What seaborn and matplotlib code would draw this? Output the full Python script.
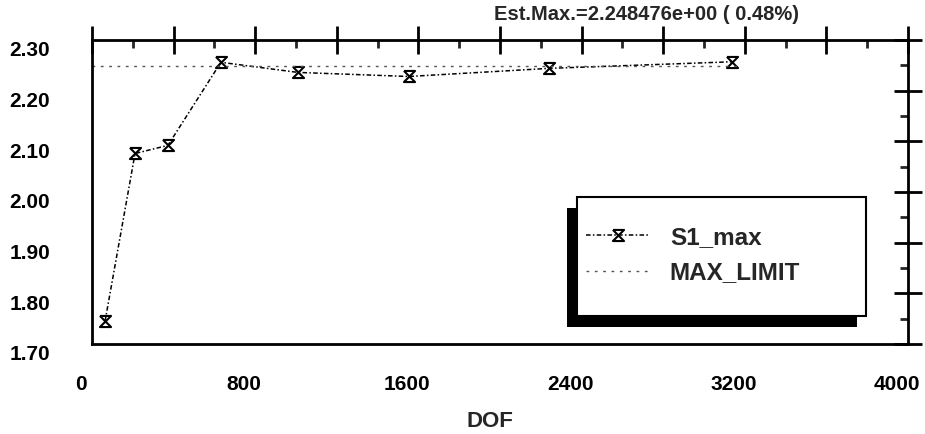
import matplotlib
matplotlib.use("Agg")
import matplotlib.pyplot as plt
import matplotlib.transforms as mtransforms
import seaborn as sns
import pandas as pd
from matplotlib.path import Path
from matplotlib.patches import Rectangle
from matplotlib.ticker import MultipleLocator, FixedLocator

# data
dof = [64, 211, 372, 632, 1010, 1554, 2240, 3137]
s1_max = [1.745, 2.076, 2.092, 2.256, 2.236, 2.228, 2.244, 2.257]
limit_dof = [0, 3160]
limit_val = [2.2485, 2.2485]
x_ticks = [0, 800, 1600, 2400, 3200, 4000]
y_ticks = [1.70, 1.80, 1.90, 2.00, 2.10, 2.20, 2.30]

df = pd.DataFrame({"DOF": dof, "S1_max": s1_max})
lim = pd.DataFrame({"DOF": limit_dof, "MAX_LIMIT": limit_val})

sns.set_style("white")
plt.rcParams["font.family"] = ["Liberation Sans", "DejaVu Sans"]
plt.rcParams["font.weight"] = "bold"

# hourglass + cross marker like the old plotter
hourglass = Path([(-1, 1), (1, 1), (-1, -1), (1, -1), (-1, 1)],
                 [Path.MOVETO, Path.LINETO, Path.LINETO, Path.LINETO, Path.LINETO])

fig = plt.figure(figsize=(9.25, 4.34), dpi=100)
ax = fig.add_axes([92 / 925, 1 - 344 / 434, 816 / 925, 304 / 434])

sns.lineplot(data=df, x="DOF", y="S1_max", ax=ax, color="black", lw=1.1,
             linestyle=(0, (3, 1.5, 1, 1.5)), marker=hourglass, markersize=8,
             markerfacecolor="none", markeredgecolor="black", markeredgewidth=1.5,
             label="S1_max", legend=False)
sns.lineplot(data=lim, x="DOF", y="MAX_LIMIT", ax=ax, color="#555555", lw=1.0,
             linestyle=(0, (2, 4)), label="MAX_LIMIT", legend=False)

ax.set_xlim(0, 4000)
ax.set_ylim(1.70, 2.30)
ax.xaxis.set_major_locator(MultipleLocator(400))
ax.xaxis.set_minor_locator(MultipleLocator(200))
ax.yaxis.set_major_locator(FixedLocator(y_ticks))
ax.yaxis.set_minor_locator(MultipleLocator(0.05))
ax.set_xticklabels([str(int(round(v))) if int(round(v)) in x_ticks else ""
                    for v in ax.get_xticks()])
ax.set_yticklabels([f"{v:.2f}" for v in ax.get_yticks()])

for s in ax.spines.values():
    s.set_linewidth(2)
    s.set_color("black")
ax.tick_params(which="major", direction="inout", length=20, width=2,
               top=True, right=True, labelsize=15, colors="black")
ax.tick_params(which="minor", direction="in", length=6, width=2,
               top=True, right=True)
ax.tick_params(axis="x", pad=12)
ax.tick_params(axis="y", pad=20)

# the old plotter printed labels a bit off the ticks
xoff = mtransforms.ScaledTranslation(-11 / 100, 0, fig.dpi_scale_trans)
for lab in ax.get_xticklabels():
    lab.set_transform(lab.get_transform() + xoff)
yoff = mtransforms.ScaledTranslation(0, -9 / 100, fig.dpi_scale_trans)
for lab in ax.get_yticklabels():
    lab.set_transform(lab.get_transform() + yoff)

ax.set_xlabel("DOF", fontsize=16, fontweight="bold")
ax.xaxis.set_label_coords((490 - 92) / 816, -(411 - 344) / 304)
ax.set_ylabel("")
ax.set_title("Est.Max.=2.248476e+00 ( 0.48%)", fontsize=14.5,
             fontweight="bold", x=0.68, y=1.04)

# legend box with shadow to the lower left
ax.add_patch(Rectangle(((567 - 92) / 816, (344 - 327) / 304), 290 / 816, 119 / 304,
                       transform=ax.transAxes, facecolor="black", edgecolor="none",
                       zorder=4, clip_on=False))
ax.add_patch(Rectangle(((577 - 92) / 816, (344 - 316) / 304), 289 / 816, 119 / 304,
                       transform=ax.transAxes, facecolor="white", edgecolor="black",
                       lw=1.5, zorder=5, clip_on=False))
leg = ax.legend(loc="center left", bbox_to_anchor=((586 - 92) / 816, (344 - 255) / 304),
                frameon=False, fontsize=17.5, handlelength=2.6, handletextpad=0.85,
                labelspacing=0.5, borderpad=0, borderaxespad=0)
leg.set_zorder(6)
for t in leg.get_texts():
    t.set_fontweight("bold")

plt.savefig("out.png", dpi=100)
